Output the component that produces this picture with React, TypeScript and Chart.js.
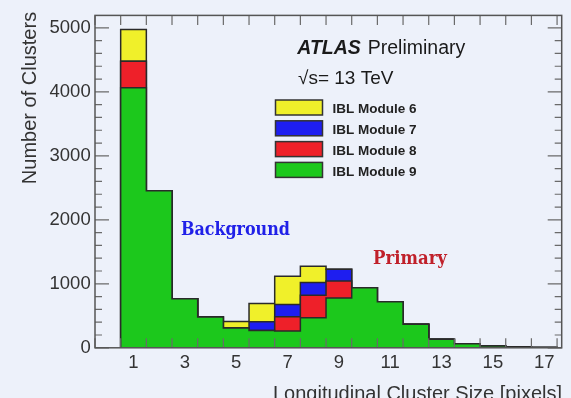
import React, { useEffect, useRef } from 'react';
import { Chart, registerables } from 'chart.js';

Chart.register(...registerables);

// ---- data ----
const binCenters = [1, 2, 3, 4, 5, 6, 7, 8, 9, 10, 11, 12, 13, 14, 15, 16, 17];
const module9 = [4065, 2455, 765, 482, 310, 270, 262, 469, 780, 940, 718, 370, 132, 62, 30, 12, 5];
const module8 = [414, 0, 0, 0, 0, 0, 222, 353, 264, 0, 0, 0, 0, 0, 0, 0, 0];
const module7 = [0, 0, 0, 0, 0, 136, 193, 197, 182, 0, 0, 0, 0, 0, 0, 0, 0];
const module6 = [494, 0, 0, 0, 100, 286, 442, 254, 0, 0, 0, 0, 0, 0, 0, 0, 0];
const xTickLabels = [1, 3, 5, 7, 9, 11, 13, 15, 17];
const yTickValues = [0, 1000, 2000, 3000, 4000, 5000];
const legendLabels = ['IBL Module 6', 'IBL Module 7', 'IBL Module 8', 'IBL Module 9'];

const COLORS = {
  m6: '#F0F02A',
  m7: '#1E1EF0',
  m8: '#EE2029',
  m9: '#1CC81C',
};
const BG = '#EDF1FA';
const FONT = '"Liberation Sans", Arial, sans-serif';
const SERIF = '"DejaVu Serif Condensed", "DejaVu Serif", serif';

function cumulate(...series: number[][]) {
  return binCenters.map((_, i) => series.reduce((s, a) => s + a[i], 0));
}

function stepPoints(values: number[]) {
  const pts: { x: number; y: number }[] = [];
  pts.push({ x: binCenters[0] - 0.5, y: 0 });
  values.forEach((v, i) => pts.push({ x: binCenters[i] - 0.5, y: v }));
  pts.push({ x: binCenters[binCenters.length - 1] + 0.5, y: 0 });
  return pts;
}

function fitText(ctx: CanvasRenderingContext2D, text: string, family: string, targetW: number, x: number, y: number) {
  ctx.font = `bold 18px ${family}`;
  const w = ctx.measureText(text).width;
  const size = (18 * targetW) / w;
  ctx.font = `bold ${size.toFixed(2)}px ${family}`;
  ctx.fillText(text, x, y);
}

const overlayPlugin = {
  id: 'rootOverlay',
  afterDraw(chart: any) {
    const { ctx, chartArea, scales } = chart;
    const { left, right, top, bottom } = chartArea;
    const xs = scales.x;
    const ys = scales.y;
    ctx.save();
    // ticks (inward)
    ctx.strokeStyle = '#6a6a6a';
    ctx.lineWidth = 1.2;
    ctx.beginPath();
    for (let v = xs.min; v <= binCenters[binCenters.length - 1] + 0.5 + 1e-6; v += 1) {
      const px = xs.getPixelForValue(v);
      ctx.moveTo(px, bottom);
      ctx.lineTo(px, bottom - 9.5);
      ctx.moveTo(px, top);
      ctx.lineTo(px, top + 9.5);
    }
    for (let v = 0; v <= ys.max + 1e-6; v += 200) {
      const py = ys.getPixelForValue(v);
      const len = v % 1000 === 0 ? 14 : 7;
      ctx.moveTo(left, py);
      ctx.lineTo(left + len, py);
      ctx.moveTo(right, py);
      ctx.lineTo(right - len, py);
    }
    ctx.stroke();
    // frame
    ctx.strokeStyle = '#555';
    ctx.lineWidth = 1.5;
    ctx.strokeRect(left, top, right - left, bottom - top);

    // axis titles
    ctx.fillStyle = '#333';
    ctx.font = `20px ${FONT}`;
    ctx.textAlign = 'right';
    ctx.textBaseline = 'alphabetic';
    ctx.fillText('Longitudinal Cluster Size [pixels]', 562, 399.5);
    ctx.save();
    ctx.translate(36, 98);
    ctx.rotate(-Math.PI / 2);
    ctx.textAlign = 'center';
    ctx.fillText('Number of Clusters', 0, 0);
    ctx.restore();

    // ATLAS label
    ctx.fillStyle = '#1a1a1a';
    ctx.textAlign = 'left';
    ctx.font = `italic bold 19.5px ${FONT}`;
    ctx.fillText('ATLAS', 297.3, 54.3);
    ctx.font = `19.5px ${FONT}`;
    ctx.fillText('Preliminary', 367.7, 54.3);
    ctx.font = `19px ${FONT}`;
    ctx.fillText('\u221As= 13 TeV', 298, 84);

    // legend
    const legendColors = [COLORS.m6, COLORS.m7, COLORS.m8, COLORS.m9];
    legendLabels.forEach((lab, i) => {
      const yTop = 100 + i * 20.8;
      ctx.fillStyle = legendColors[i];
      ctx.fillRect(275.5, yTop, 47, 15);
      ctx.strokeStyle = '#333';
      ctx.lineWidth = 1.5;
      ctx.strokeRect(275.5, yTop, 47, 15);
      ctx.fillStyle = '#222';
      ctx.font = `bold 13.5px ${FONT}`;
      ctx.fillText(lab, 332.5, yTop + 13.3);
    });

    // annotations
    ctx.fillStyle = '#2020E8';
    fitText(ctx, 'Background', SERIF, 109, 181, 235);
    ctx.fillStyle = '#C0202A';
    fitText(ctx, 'Primary', SERIF, 74, 373, 264.3);
    ctx.restore();
  },
};

export default function App() {
  const ref = useRef<HTMLCanvasElement | null>(null);
  useEffect(() => {
    if (!ref.current) return;
    document.body.style.margin = '0';
    document.body.style.background = BG;
    const total = cumulate(module9, module8, module7, module6);
    const upTo7 = cumulate(module9, module8, module7);
    const upTo8 = cumulate(module9, module8);
    const only9 = cumulate(module9);
    const mk = (label: string, vals: number[], color: string) => ({
      label,
      data: stepPoints(vals),
      stepped: true,
      fill: 'origin',
      backgroundColor: color,
      borderColor: '#2a2a2a',
      borderWidth: 1.5,
      pointRadius: 0,
      tension: 0,
    });
    const chart = new Chart(ref.current, {
      type: 'line',
      data: {
        datasets: [
          mk('IBL Module 9', only9, COLORS.m9),
          mk('IBL Module 8', upTo8, COLORS.m8),
          mk('IBL Module 7', upTo7, COLORS.m7),
          mk('IBL Module 6', total, COLORS.m6),
        ] as any,
      },
      options: {
        responsive: false,
        animation: false,
        layout: { padding: { left: 0, top: 14, right: 9.3, bottom: 0 } },
        plugins: {
          legend: { display: false },
          tooltip: { enabled: false },
          filler: { drawTime: 'beforeDatasetDraw' } as any,
        },
        scales: {
          x: {
            type: 'linear',
            min: -0.5,
            max: 17.68,
            afterBuildTicks: (s: any) => {
              s.ticks = xTickLabels.map((v) => ({ value: v }));
            },
            afterFit: (s: any) => {
              s.height = 50.2;
            },
            ticks: {
              autoSkip: false,
              maxRotation: 0,
              minRotation: 0,
              padding: 4,
              color: '#333',
              font: { family: FONT, size: 18.5 },
              callback: (v: any) => String(v),
            },
            grid: { display: false, drawTicks: false },
            border: { display: false },
          },
          y: {
            type: 'linear',
            min: 0,
            max: 5195,
            afterBuildTicks: (s: any) => {
              s.ticks = yTickValues.map((v) => ({ value: v }));
            },
            afterFit: (s: any) => {
              s.width = 95;
            },
            ticks: {
              padding: 4.3,
              color: '#333',
              font: { family: FONT, size: 18.5 },
              callback: (v: any) => String(v),
            },
            grid: { display: false, drawTicks: false },
            border: { display: false },
          },
        },
      },
      plugins: [overlayPlugin],
    });
    return () => chart.destroy();
  }, []);
  return (
    <div style={{ position: 'fixed', left: 0, top: 0, width: 571, height: 398, background: BG }}>
      <canvas ref={ref} width={571} height={398} style={{ display: 'block' }} />
    </div>
  );
}
